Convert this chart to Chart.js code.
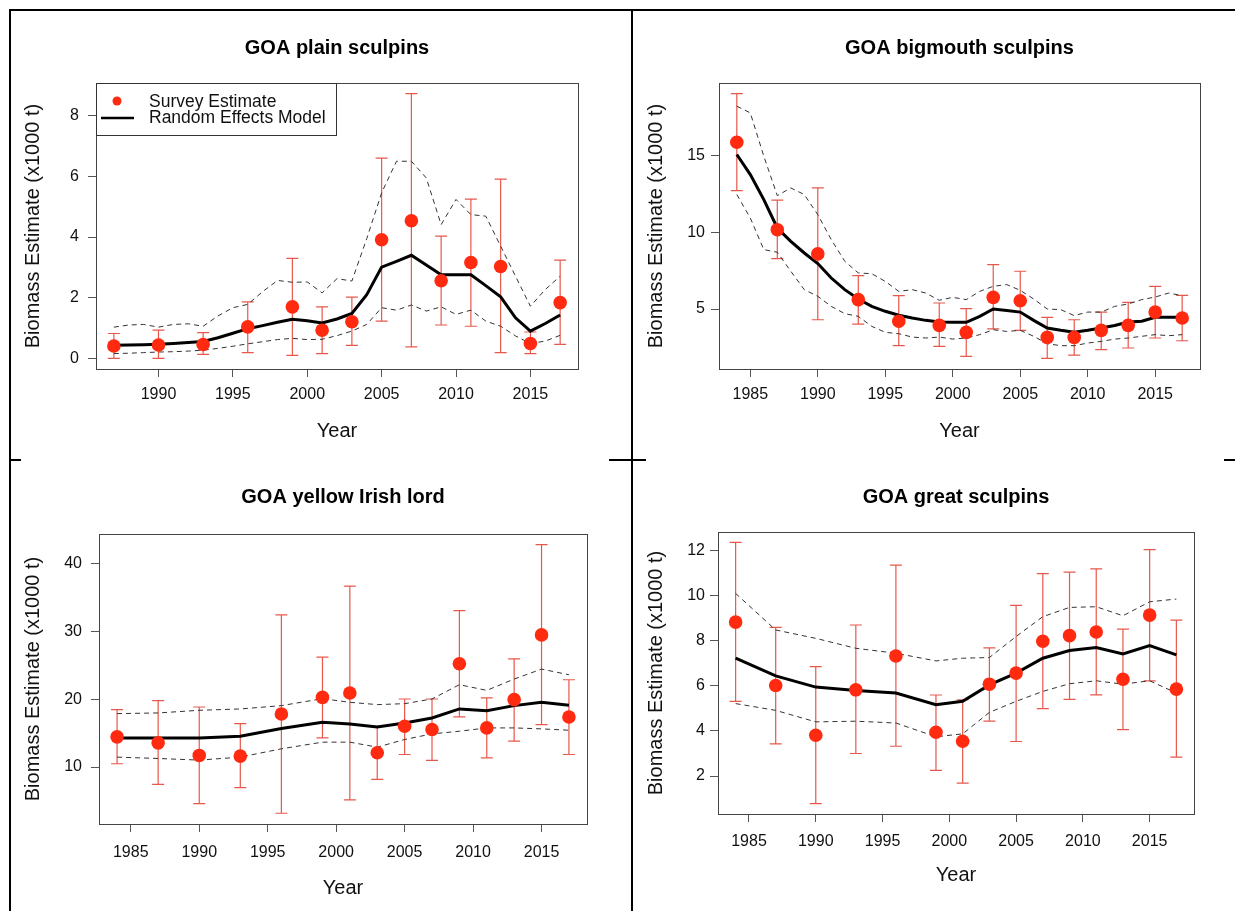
<!DOCTYPE html>
<html>
<head>
<meta charset="utf-8">
<script src="https://cdn.jsdelivr.net/npm/chart.js@4.4.1/dist/chart.umd.min.js"></script>
<style>
  body { margin: 0; background: #fff; width: 1235px; height: 911px; overflow: hidden; position: relative; }
  canvas { position: absolute; }
  .rule { position: absolute; background: #000; }
</style>
</head>
<body>
<div class="rule" style="left:9px;top:9px;width:1226px;height:2px"></div>
<div class="rule" style="left:9px;top:9px;width:2px;height:902px"></div>
<div class="rule" style="left:631px;top:9px;width:2px;height:902px"></div>
<div class="rule" style="left:9px;top:459px;width:12px;height:2px"></div>
<div class="rule" style="left:609px;top:459px;width:37px;height:2px"></div>
<div class="rule" style="left:1224px;top:459px;width:11px;height:2px"></div>

<canvas id="plain" width="618" height="446" style="left:12px;top:12px"></canvas>
<canvas id="bigmouth" width="601" height="446" style="left:634px;top:12px"></canvas>
<canvas id="irishlord" width="618" height="449" style="left:12px;top:462px"></canvas>
<canvas id="great" width="601" height="449" style="left:634px;top:462px"></canvas>

<script>
// 調査年
let surveyYears1 = [1987, 1990, 1993, 1996, 1999, 2001, 2003, 2005, 2007, 2009, 2011, 2013, 2015, 2017];
let surveyYears = [1984, 1987, 1990, 1993, 1996, 1999, 2001, 2003, 2005, 2007, 2009, 2011, 2013, 2015, 2017];
let annualYears1 = [1987, 1988, 1989, 1990, 1991, 1992, 1993, 1994, 1995, 1996, 1997, 1998, 1999, 2000, 2001,
  2002, 2003, 2004, 2005, 2006, 2007, 2008, 2009, 2010, 2011, 2012, 2013, 2014, 2015, 2016, 2017];
let annualYears2 = [1984, 1985, 1986].concat(annualYears1);

// 目盛り
let xTicks1 = [1990, 1995, 2000, 2005, 2010, 2015];
let xTicks = [1985, 1990, 1995, 2000, 2005, 2010, 2015];
let yTicksPlain = [0, 2, 4, 6, 8];
let yTicksBigmouth = [5, 10, 15];
let yTicksIrish = [10, 20, 30, 40];
let yTicksGreat = [2, 4, 6, 8, 10, 12];

// GOA plain sculpins
let plainEst = [0.41, 0.44, 0.46, 1.04, 1.70, 0.93, 1.21, 3.91, 4.54, 2.56, 3.16, 3.03, 0.49, 1.84];
let plainLo = [0.00, 0.00, 0.13, 0.19, 0.10, 0.16, 0.43, 1.23, 0.38, 1.10, 1.06, 0.19, 0.16, 0.46];
let plainHi = [0.82, 0.93, 0.85, 1.86, 3.30, 1.70, 2.02, 6.60, 8.73, 4.03, 5.25, 5.91, 0.87, 3.24];
let plainModel = [0.43, 0.44, 0.45, 0.47, 0.49, 0.52, 0.56, 0.68, 0.83, 0.98, 1.08, 1.19, 1.29, 1.24, 1.17,
  1.30, 1.48, 2.10, 3.01, 3.20, 3.40, 3.08, 2.76, 2.76, 2.76, 2.40, 2.03, 1.34, 0.90, 1.15, 1.43];
let plainUpper = [1.03, 1.10, 1.12, 1.03, 1.12, 1.14, 1.06, 1.40, 1.67, 1.78, 2.20, 2.57, 2.51, 2.52, 2.16,
  2.63, 2.55, 3.95, 5.46, 6.50, 6.50, 5.95, 4.41, 5.24, 4.74, 4.69, 3.70, 2.71, 1.72, 2.27, 2.71];
let plainLower = [0.16, 0.17, 0.19, 0.21, 0.22, 0.24, 0.27, 0.33, 0.40, 0.48, 0.55, 0.62, 0.66, 0.62, 0.63,
  0.75, 0.90, 1.12, 1.67, 1.59, 1.76, 1.56, 1.70, 1.45, 1.59, 1.23, 1.06, 0.74, 0.49, 0.57, 0.76];

// GOA bigmouth sculpins
let bigEst = [15.87, 10.17, 8.59, 5.61, 4.20, 3.93, 3.48, 5.76, 5.54, 3.15, 3.15, 3.61, 3.93, 4.80, 4.41];
let bigLo = [12.72, 8.28, 4.30, 4.02, 2.61, 2.57, 1.91, 3.70, 3.61, 1.78, 2.00, 2.35, 2.46, 3.11, 2.93];
let bigHi = [19.04, 12.09, 12.89, 7.17, 5.87, 5.39, 5.02, 7.89, 7.46, 4.46, 4.30, 4.80, 5.43, 6.48, 5.89];
let bigModel = [15.07, 13.76, 12.13, 10.28, 9.41, 8.65, 7.96, 7.02, 6.26, 5.65, 5.17, 4.85, 4.59, 4.41, 4.26, 4.15,
  4.13, 4.13, 4.52, 5.00, 4.91, 4.80, 4.26, 3.76, 3.61, 3.48, 3.61, 3.76, 3.93, 4.15, 4.20, 4.46, 4.46, 4.46];
let bigUpper = [18.22, 17.78, 14.96, 12.39, 12.89, 12.46, 11.15, 9.52, 8.11, 7.35, 7.30, 6.80, 6.15, 6.26, 6.04, 5.57,
  5.76, 5.61, 6.15, 6.48, 6.59, 6.22, 5.65, 5.00, 4.96, 4.57, 4.80, 4.80, 5.17, 5.33, 5.61, 5.78, 6.04, 5.87];
let bigLower = [12.46, 10.93, 8.87, 8.70, 7.46, 6.26, 5.83, 5.17, 4.70, 4.52, 3.87, 3.48, 3.39, 3.17, 3.11, 3.17,
  3.04, 3.11, 3.33, 3.65, 3.54, 3.61, 3.22, 2.74, 2.61, 2.61, 2.78, 2.89, 3.04, 3.11, 3.22, 3.33, 3.26, 3.33];

// GOA yellow Irish lord
let irishEst = [14.46, 13.58, 11.72, 11.62, 17.84, 20.29, 20.93, 12.11, 16.03, 15.54, 25.25, 15.78, 19.95, 29.51, 17.40];
let irishLo = [10.49, 7.45, 4.61, 6.96, 3.19, 14.31, 5.15, 8.19, 11.86, 10.98, 17.40, 11.37, 13.82, 16.27, 11.86];
let irishHi = [18.48, 19.80, 18.87, 16.42, 32.45, 26.23, 36.72, 16.03, 20.05, 20.05, 33.09, 20.20, 25.98, 42.84, 22.89];
let irishModel = [14.31, 14.31, 14.31, 14.56, 15.69, 16.62, 16.37, 15.93, 16.52, 17.25, 18.58, 18.33, 19.07, 19.56, 19.12];
let irishUpper = [17.89, 17.99, 18.38, 18.58, 19.07, 20.10, 19.56, 19.22, 19.36, 20.05, 22.16, 21.32, 22.99, 24.46, 23.63];
let irishLower = [11.47, 11.27, 11.03, 11.47, 12.70, 13.68, 13.68, 12.94, 14.07, 14.90, 15.29, 15.78, 15.78, 15.64, 15.44];

// GOA great sculpins
let greatEst = [8.82, 6.01, 3.81, 5.82, 7.32, 3.94, 3.54, 6.07, 6.56, 7.97, 8.22, 8.38, 6.29, 9.13, 5.85];
let greatLo = [5.31, 3.43, 0.78, 3.00, 3.32, 2.25, 1.69, 4.43, 3.53, 4.99, 5.40, 5.60, 4.06, 6.22, 2.84];
let greatHi = [12.35, 8.59, 6.85, 8.69, 11.34, 5.59, 5.38, 7.68, 9.56, 10.97, 11.03, 11.18, 8.51, 12.03, 8.91];
let greatModel = [7.22, 6.44, 5.94, 5.79, 5.68, 5.16, 5.31, 6.04, 6.56, 7.22, 7.56, 7.69, 7.41, 7.78, 7.37];
let greatUpper = [10.09, 8.47, 8.10, 7.66, 7.44, 7.10, 7.22, 7.25, 8.18, 9.06, 9.47, 9.50, 9.10, 9.72, 9.84];
let greatLower = [5.21, 4.91, 4.40, 4.43, 4.35, 3.74, 3.87, 4.82, 5.31, 5.75, 6.09, 6.22, 6.07, 6.22, 5.68];

const FONT = '"Liberation Sans", Arial, Helvetica, sans-serif';
const RED = '#ff2a10';
const BAR = 'rgba(228, 70, 55, 0.9)';

function pts(xs, ys) {
  return xs.map((x, i) => ({ x: x, y: ys[i] }));
}

// 枠、エラーバー、タイトル、凡例を描くプラグイン
const panelDecor = {
  id: 'panelDecor',
  beforeDatasetsDraw(chart) {
    let c = chart.ctx, xs = chart.scales.x, ys = chart.scales.y;
    let ds = chart.data.datasets[0];
    c.save();
    c.strokeStyle = BAR;
    c.lineWidth = 1.2;
    ds.data.forEach((p, i) => {
      let px = xs.getPixelForValue(p.x);
      let top = ys.getPixelForValue(ds.hi[i]);
      let bot = ys.getPixelForValue(ds.lo[i]);
      c.beginPath();
      c.moveTo(px, top); c.lineTo(px, bot);
      c.moveTo(px - 6, top); c.lineTo(px + 6, top);
      c.moveTo(px - 6, bot); c.lineTo(px + 6, bot);
      c.stroke();
    });
    c.restore();
  },
  afterDraw(chart, args, opts) {
    let c = chart.ctx, a = chart.chartArea;
    c.save();
    c.strokeStyle = '#444';
    c.lineWidth = 1;
    c.strokeRect(a.left + 0.5, a.top + 0.5, a.right - a.left, a.bottom - a.top);
    c.fillStyle = '#000';
    c.font = 'bold 20px ' + FONT;
    c.textAlign = 'center';
    c.textBaseline = 'middle';
    c.fillText(opts.title, (a.left + a.right) / 2, opts.titleY);
    if (opts.legend) {
      c.fillStyle = '#fff';
      c.fillRect(a.left, a.top, 240, 52);
      c.strokeStyle = '#333';
      c.strokeRect(a.left + 0.5, a.top + 0.5, 240, 52);
      c.fillStyle = RED;
      c.beginPath();
      c.arc(a.left + 21, a.top + 18, 4.5, 0, Math.PI * 2);
      c.fill();
      c.strokeStyle = '#000';
      c.lineWidth = 2.5;
      c.beginPath();
      c.moveTo(a.left + 5, a.top + 35); c.lineTo(a.left + 38, a.top + 35);
      c.stroke();
      c.fillStyle = '#111';
      c.font = '17.5px ' + FONT;
      c.textAlign = 'left';
      c.fillText(chart.data.datasets[0].label, a.left + 53, a.top + 19);
      c.fillText(chart.data.datasets[1].label, a.left + 53, a.top + 35);
    }
    c.restore();
  }
};

function makePanel(id, p) {
  let ctx = document.getElementById(id).getContext('2d');
  return new Chart(ctx, {
    type: 'line',
    data: {
      datasets: [
        { label: 'Survey Estimate', data: pts(p.years, p.est), lo: p.lo, hi: p.hi, showLine: false,
          pointRadius: 6.8, pointBackgroundColor: RED, pointBorderWidth: 0, order: 0 },
        { label: 'Random Effects Model', data: pts(p.modelYears, p.model), borderColor: '#000',
          borderWidth: 3, pointRadius: 0, tension: 0, order: 1 },
        { label: 'upper', data: pts(p.modelYears, p.upper), borderColor: '#333', borderWidth: 1,
          borderDash: [5, 4], pointRadius: 0, order: 2 },
        { label: 'lower', data: pts(p.modelYears, p.lower), borderColor: '#333', borderWidth: 1,
          borderDash: [5, 4], pointRadius: 0, order: 2 }
      ]
    },
    options: {
      responsive: false,
      animation: false,
      events: [],
      layout: { padding: { left: 0, top: p.padTop, right: p.padRight, bottom: 0 } },
      plugins: {
        legend: { display: false },
        tooltip: { enabled: false },
        panelDecor: { title: p.title, titleY: p.titleY, legend: !!p.legend }
      },
      scales: {
        x: {
          type: 'linear', min: p.xMin, max: p.xMax,
          afterBuildTicks: s => { s.ticks = p.xTicks.map(v => ({ value: v })); },
          afterFit: s => { s.height = p.xH; },
          ticks: { callback: v => String(v), color: '#111', font: { family: FONT, size: 16 },
            padding: p.xTickPad, maxRotation: 0, autoSkip: false },
          grid: { drawOnChartArea: false, tickLength: 8, color: '#555' },
          border: { display: false },
          title: { display: true, text: 'Year', color: '#111', font: { family: FONT, size: 20 },
            padding: { top: 0, bottom: p.xTitlePad } }
        },
        y: {
          type: 'linear', min: p.yMin, max: p.yMax,
          afterBuildTicks: s => { s.ticks = p.yTicks.map(v => ({ value: v })); },
          afterFit: s => { s.width = p.yW; },
          ticks: { callback: v => String(v), color: '#111', font: { family: FONT, size: 16 },
            padding: p.yTickPad },
          grid: { drawOnChartArea: false, tickLength: 8, color: '#555' },
          border: { display: false },
          title: { display: true, text: 'Biomass Estimate (x1000 t)', color: '#111',
            font: { family: FONT, size: 20 }, padding: { top: p.yTitlePad, bottom: 0 } }
        }
      }
    },
    plugins: [panelDecor]
  });
}

makePanel('plain', {
  title: 'GOA plain sculpins', titleY: 36, legend: true,
  years: surveyYears1, est: plainEst, lo: plainLo, hi: plainHi,
  modelYears: annualYears1, model: plainModel, upper: plainUpper, lower: plainLower,
  xTicks: xTicks1, yTicks: yTicksPlain, xMin: 1985.8, xMax: 2018.2, yMin: -0.35, yMax: 9.08,
  padTop: 71, padRight: 52, yW: 84, xH: 89, yTitlePad: 9, xTitlePad: 15, xTickPad: 8, yTickPad: 9
});

makePanel('bigmouth', {
  title: 'GOA bigmouth sculpins', titleY: 36,
  years: surveyYears, est: bigEst, lo: bigLo, hi: bigHi,
  modelYears: annualYears2, model: bigModel, upper: bigUpper, lower: bigLower,
  xTicks: xTicks, yTicks: yTicksBigmouth, xMin: 1982.68, xMax: 2018.32, yMin: 1.09, yMax: 19.73,
  padTop: 71, padRight: 35, yW: 85, xH: 89, yTitlePad: 10, xTitlePad: 15, xTickPad: 8, yTickPad: 6
});

makePanel('irishlord', {
  title: 'GOA yellow Irish lord', titleY: 35,
  years: surveyYears, est: irishEst, lo: irishLo, hi: irishHi,
  modelYears: surveyYears, model: irishModel, upper: irishUpper, lower: irishLower,
  xTicks: xTicks, yTicks: yTicksIrish, xMin: 1982.68, xMax: 2018.32, yMin: 1.6, yMax: 44.4,
  padTop: 72, padRight: 43, yW: 87, xH: 87, yTitlePad: 9, xTitlePad: 11, xTickPad: 11, yTickPad: 9
});

makePanel('great', {
  title: 'GOA great sculpins', titleY: 35,
  years: surveyYears, est: greatEst, lo: greatLo, hi: greatHi,
  modelYears: surveyYears, model: greatModel, upper: greatUpper, lower: greatLower,
  xTicks: xTicks, yTicks: yTicksGreat, xMin: 1982.68, xMax: 2018.32, yMin: 0.32, yMax: 12.81,
  padTop: 70, padRight: 41, yW: 84, xH: 97, yTitlePad: 10, xTitlePad: 24, xTickPad: 10, yTickPad: 5
});
</script>
</body>
</html>
